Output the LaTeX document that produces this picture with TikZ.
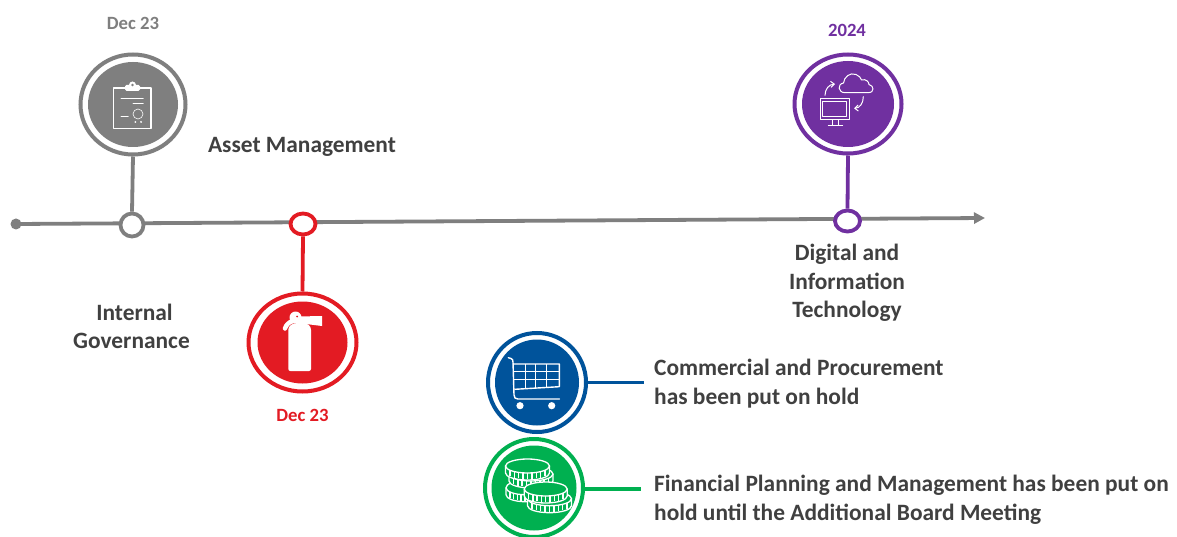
\documentclass[tikz,border=0pt]{standalone}
\usepackage{fontspec}
\setmainfont{Carlito}
\usetikzlibrary{shapes.geometric,arrows.meta}
\definecolor{cgrey}{HTML}{7F7F7F}
\definecolor{cred}{HTML}{E31B23}
\definecolor{cpurple}{HTML}{7030A0}
\definecolor{cblue}{HTML}{00539B}
\definecolor{cgreen}{HTML}{00B050}
\definecolor{ctext}{HTML}{404040}
\tikzset{
  outerdisc/.style={ellipse,draw=#1,fill=white,line width=4pt,inner sep=0pt},
  innerdisc/.style={ellipse,fill=#1,inner sep=0pt},
  ringnode/.style={ellipse,draw=#1,fill=white,line width=3.8pt,inner sep=0pt},
  link/.style={draw=#1,line width=3.8pt},
  heading/.style={font=\bfseries\fontsize{23.4}{28.5}\selectfont,text=ctext,inner sep=0pt,align=center},
  headleft/.style={heading,align=left,anchor=west},
  datelabel/.style={font=\bfseries\fontsize{18.7}{22}\selectfont,text=#1,inner sep=0pt},
  iconline/.style={draw=white,line width=#1,line cap=round,line join=round},
  iconline/.default=0.9pt
}
\newcommand{\coin}[3]{% cx cy rx
  \fill[cgreen] (#1-#3,#2) -- (#1-#3,#2+7) arc[start angle=180,end angle=0,x radius=#3,y radius=7] -- (#1+#3,#2) arc[start angle=0,end angle=-180,x radius=#3,y radius=7];
  \draw[white,line width=1.3pt] (#1-#3,#2) -- (#1-#3,#2+7) arc[start angle=180,end angle=0,x radius=#3,y radius=7] -- (#1+#3,#2);
  \foreach \a in {-0.8,-0.6,-0.4,-0.2,0,0.2,0.4,0.6,0.8}
    \draw[white,line width=1.5pt] ({#1+\a*#3},{#2+sqrt(1-\a*\a)*7}) -- ++(0,6);
  \draw[white,line width=1.3pt,fill=cgreen] (#1,#2) ellipse[x radius=#3,y radius=7];
}
\begin{document}
\begin{tikzpicture}[x=1pt,y=-1pt]
\useasboundingbox (0,0) rectangle (1177,537);
\clip (0,0) rectangle (1177,537);
\fill[white] (0,0) rectangle (1177,537);

% timeline
\coordinate (axisend) at (985,218);
\node[circle,fill=cgrey,minimum size=11pt,inner sep=0pt] (axisstart) at (16,224) {};
\draw[draw=cgrey,line width=3.8pt,-{Triangle[length=11pt,width=11pt]}] (axisstart.center) -- (axisend);

% grey milestone
\node[outerdisc=cgrey,minimum width=105pt,minimum height=100pt] (greybig) at (133,104.5) {};
\node[innerdisc=cgrey,minimum width=90pt,minimum height=85pt] (greyin) at (133,104.5) {};
\node[ringnode=cgrey,minimum width=23pt,minimum height=23pt] (greyring) at (132,225) {};
\draw[link=cgrey] (greybig.south) -- (greyring.north);
\draw[iconline=1.2pt] (125,88) -- (113.5,88) -- (113.5,128.7) -- (151,128.7) -- (151,88) -- (140,88);
\fill[white,rounded corners=1.5pt] (125,85) rectangle (140,91);
\fill[white] (132.5,85) circle (3.5);
\fill[cgrey] (132.5,85) circle (1.4);
\draw[iconline=0.8pt] (121,98.7) -- (143.3,98.7) (133,103.7) -- (143.3,103.7) (121,116.7) -- (128.3,116.7);
\draw[iconline=0.6pt] (138,114) circle (5);
\fill[white] (135.3,122) circle (1) (141,122) circle (1);

% red milestone
\node[outerdisc=cred,minimum width=108pt,minimum height=98pt] (redbig) at (302.5,342.5) {};
\node[innerdisc=cred,minimum width=90pt,minimum height=82pt] (redin) at (302.5,342.5) {};
\node[ringnode=cred,minimum width=25pt,minimum height=21pt] (redring) at (303,224) {};
\draw[link=cred] (redring.south) -- (redbig.north);
\fill[white,rounded corners=2pt] (288.3,371) -- (288.3,332) .. controls (288.3,326) and (292,323) .. (300,323) .. controls (308,323) and (311,326) .. (311,332) -- (311,371) -- cycle;
\fill[white] (295.5,317.5) circle (6);
\fill[white] (298,316.5) -- (322,316) -- (322,326) -- (298,323) -- cycle;
\draw[white,line width=4.5pt,line cap=round] (285,328.5) .. controls (286,325) and (289,322) .. (293,321);
\fill[cred] (297,316.5) circle (1);

% purple milestone
\node[outerdisc=cpurple,minimum width=107pt,minimum height=99pt] (purplebig) at (848,104) {};
\node[innerdisc=cpurple,minimum width=92pt,minimum height=86pt] (purplein) at (848,104) {};
\node[ringnode=cpurple,minimum width=25pt,minimum height=21pt] (purplering) at (847.5,221) {};
\draw[link=cpurple] (purplebig.south) -- (purplering.north);
\draw[iconline=1pt] (820.2,99) rectangle (849.3,120);
\draw[iconline=0.9pt] (822.7,101.7) rectangle (846.7,116.7);
\draw[iconline=0.9pt] (832.7,120) -- (832.7,125.3) (838.3,120) -- (838.3,125.3) (828.3,125.3) -- (842.7,125.3);
\draw[iconline=1pt] (845,92.7) .. controls (838,92.7) and (837,84) .. (843.5,83) .. controls (844,77) and (850,72) .. (856,74.5) .. controls (859,75.5) and (861,78) .. (861.5,80) .. controls (866,78.5) and (869,82) .. (869,84.5) .. controls (874,85.5) and (875,92.7) .. (868,92.7) -- cycle;
\draw[iconline=1pt,-{Straight Barb[length=3.5pt,width=6pt]}] (825,95.3) .. controls (825,89) and (829,84.5) .. (835,84);
\draw[iconline=1pt,-{Straight Barb[length=3.5pt,width=6pt]}] (863.3,96.7) .. controls (863.3,103) and (860,108) .. (854,108.3);

% blue item
\node[outerdisc=cblue,minimum width=98pt,minimum height=99pt] (bluebig) at (537,382.5) {};
\node[innerdisc=cblue,minimum width=84pt,minimum height=86pt] (bluein) at (537,382.5) {};
\coordinate (blueend) at (644,382.5);
\draw[link=cblue] (bluebig.east) -- (blueend);
\draw[white,line width=1pt] (525,364) -- (525,388.2) (535.7,364) -- (535.7,387.6) (546.7,364) -- (546.7,387) (514,371.7) -- (559.3,371.7) (514.4,379.3) -- (559.3,379.3);
\draw[iconline=1.4pt] (508.3,357.7) -- (511,358.5) .. controls (512.5,359) and (513,360) .. (513,362) -- (514,395) .. controls (514,398) and (515.5,399) .. (518,399) -- (559.3,399);
\draw[iconline=1.4pt] (513.3,364) -- (559.3,364) -- (559.3,386.7) -- (515,389.3);
\fill[white] (520,405.7) circle (3.6) (551.7,405.7) circle (3.6);

% green item
\node[outerdisc=cgreen,minimum width=98pt,minimum height=98pt] (greenbig) at (534,488) {};
\node[innerdisc=cgreen,minimum width=85pt,minimum height=85pt] (greenin) at (534,488) {};
\coordinate (greenend) at (641,489);
\draw[link=cgreen] (greenbig.east |- greenend) -- (greenend);
\coin{525}{487.7}{19}
\coin{531}{474}{22}
\coin{527.5}{466}{22}
\coin{549.5}{498.7}{22}
\coin{545.7}{489}{21.5}

% labels
\node[datelabel=cgrey] (lbl1) at (133,23) {Dec 23};
\node[datelabel=cred] (lbl2) at (302.5,415) {Dec 23};
\node[datelabel=cpurple] (lbl3) at (847,30) {2024};
\node[heading] (t1) at (302,147) {Asset Management};
\node[heading] (t2) at (131.5,326.5) {\hspace*{6pt}Internal\\Governance};
\node[heading] (t3) at (847,283) {Digital and\\Information\\Technology};
\node[headleft] (t4) at (654,383.5) {Commercial and Procurement\\has been put on hold};
\node[headleft] (t5) at (654,500) {Financial Planning and Management has been put on\\hold until the Additional Board Meeting};
\end{tikzpicture}
\end{document}
